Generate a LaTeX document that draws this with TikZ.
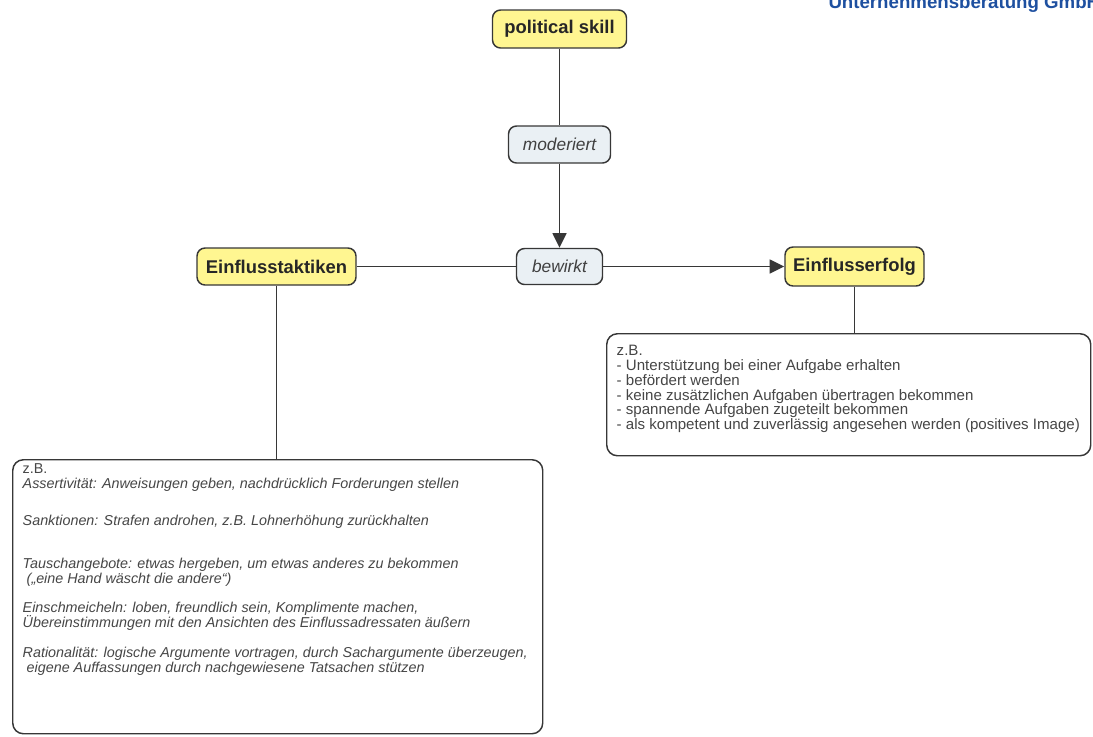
\documentclass[tikz,border=0pt]{standalone}
\usepackage{fontspec}
\setmainfont{Liberation Sans}
\usetikzlibrary{arrows.meta,positioning}
\tikzset{every picture/.style={line width=0.75pt}}
\definecolor{conceptyellow}{RGB}{255,246,145}
\definecolor{linkblue}{RGB}{234,240,244}
\definecolor{framegray}{RGB}{55,55,55}
\definecolor{notegray}{RGB}{70,70,70}
\definecolor{logoblue}{RGB}{30,80,160}

\begin{document}
\begin{tikzpicture}[
    x=0.75pt, y=-0.75pt,
    concept/.style={draw=framegray,line width=1.1pt,fill=conceptyellow,rounded corners=6pt,inner sep=0pt,font=\bfseries\fontsize{13.8}{16}\selectfont,text=black!85},
    linkword/.style={draw=framegray,line width=1.1pt,fill=linkblue,rounded corners=6pt,inner sep=0pt,font=\itshape\fontsize{13}{15}\selectfont,text=black!75},
    notebox/.style={draw=framegray,line width=1.1pt,fill=white,rounded corners=8pt,inner sep=0pt,anchor=north west,text=notegray},
    connector/.style={draw=framegray,line width=1.1pt},
    arrowline/.style={connector,-{Triangle[length=11pt,width=10.5pt]}}
]
    \clip (0,0) rectangle (1093,736);
    \useasboundingbox (0,0) rectangle (1093,736);

    % Firmenzeile oben rechts (angeschnitten)
    \node[anchor=base west,inner sep=0pt,font=\bfseries\fontsize{14}{16}\selectfont,text=logoblue] (logo) at (828,8) {Unternehmensberatung GmbH};

    % Konzepte
    \node[concept,minimum width=100.5pt,minimum height=28.5pt] (skill) at (559.5,29) {political skill};
    \node[linkword,minimum width=76.5pt,minimum height=27.75pt] (moderiert) at (559.5,144.5) {moderiert};
    \node[linkword,minimum width=64.5pt,minimum height=27pt] (bewirkt) at (559.5,266.5) {bewirkt};
    \node[concept,minimum width=119.25pt,minimum height=27.75pt] (taktiken) at (276.5,266.5) {Einflusstaktiken};
    \node[concept,minimum width=104.25pt,minimum height=29.25pt] (erfolg) at (854.5,266.5) {Einflusserfolg};

    % Beispiele Einflusserfolg
    \node[notebox] (bspErfolg) at (606,333) {\parbox[t][91.5pt][t]{363pt}{\fontsize{11.3}{11.1}\selectfont\leftskip=7.5pt
        \rule{0pt}{16.5pt}z.B.\\
        - Unterstützung bei einer Aufgabe erhalten\\
        - befördert werden\\
        - keine zusätzlichen Aufgaben übertragen bekommen\\
        - spannende Aufgaben zugeteilt bekommen\\
        - als kompetent und zuverlässig angesehen werden (positives Image)}};

    % Beispiele Einflusstaktiken
    \node[notebox] (bspTaktik) at (12,459) {\parbox[t][205.5pt][t]{397.5pt}{\fontsize{10.75}{11.25}\selectfont\leftskip=7.5pt
        \rule{0pt}{10.5pt}z.B.\\
        \textit{Assertivität: Anweisungen geben, nachdrücklich Forderungen stellen}\\[16pt]
        \textit{Sanktionen: Strafen androhen, z.B. Lohnerhöhung zurückhalten}\\[21pt]
        \textit{Tauschangebote: etwas hergeben, um etwas anderes zu bekommen}\\
        \hspace*{3pt}\textit{(„eine Hand wäscht die andere“)}\\[11pt]
        \textit{Einschmeicheln: loben, freundlich sein, Komplimente machen,}\\
        \textit{Übereinstimmungen mit den Ansichten des Einflussadressaten äußern}\\[11pt]
        \textit{Rationalität: logische Argumente vortragen, durch Sachargumente überzeugen,}\\
        \hspace*{3pt}\textit{eigene Auffassungen durch nachgewiesene Tatsachen stützen}}};

    % Verbindungen
    \draw[connector] (skill.south) -- (moderiert.north);
    \draw[arrowline] (moderiert.south) -- (bewirkt.north);
    \draw[connector] (taktiken) -- (bewirkt);
    \draw[arrowline] (bewirkt) -- (erfolg);
    \draw[connector] (erfolg.south) -- (erfolg.south |- bspErfolg.north);
    \draw[connector] (taktiken.south) -- (taktiken.south |- bspTaktik.north);
\end{tikzpicture}
\end{document}
